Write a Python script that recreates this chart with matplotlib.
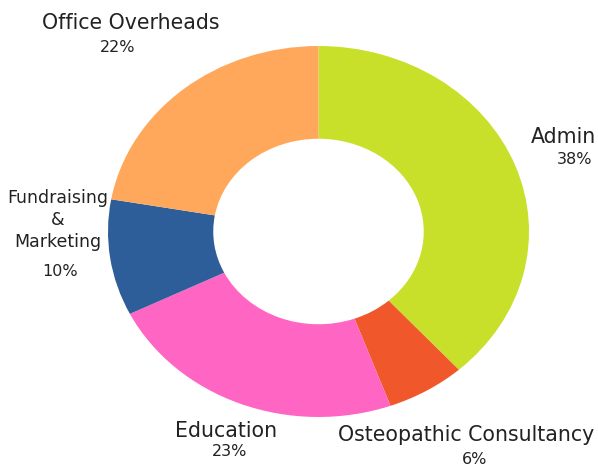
import matplotlib
matplotlib.use("Agg")
import matplotlib.pyplot as plt

# Slice data, clockwise from 12 o'clock
categories = ["Admin", "Osteopathic Consultancy", "Education", "Fundraising\n&\nMarketing", "Office Overheads"]
shares = [38, 6, 23, 10, 22]
colors = ["#c8e02a", "#f0582c", "#ff66c4", "#2e5e99", "#ffa85c"]

W, H = 598, 466
fig = plt.figure(figsize=(W / 100, H / 100), dpi=100)
plt.rcParams["font.family"] = ["DejaVu Sans"]

# axes box spans the ellipse of the donut (pixel coords from the reference)
left, right, top, bottom = 108, 529, 46, 417
ax = fig.add_axes([left / W, 1 - bottom / H, (right - left) / W, (bottom - top) / H])
ax.pie(shares, colors=colors, startangle=90, counterclock=False, radius=1,
       wedgeprops=dict(width=0.5, linewidth=0))
ax.set_aspect("auto")
ax.set_xlim(-1, 1)
ax.set_ylim(-1, 1)
ax.axis("off")

# label positions (pixels) for name and percentage, plus name size
label_pos = [
    ((563, 137), (575, 160), 14.8),
    ((466, 435), (475, 460), 14.8),
    ((226, 431), (230, 451), 14.8),
    ((58, 220), (60, 271), 12.5),
    ((131, 23), (118, 47), 14.8),
]
for name, pct, ((nx, ny), (px, py), fs) in zip(categories, shares, label_pos):
    fig.text(nx / W, 1 - ny / H, name, ha="center", va="center", fontsize=fs,
             color="#222222", linespacing=1.3)
    fig.text(px / W, 1 - py / H, f"{pct}%", ha="center", va="center", fontsize=11.5,
             color="#222222")

fig.savefig("out.png", dpi=100)
